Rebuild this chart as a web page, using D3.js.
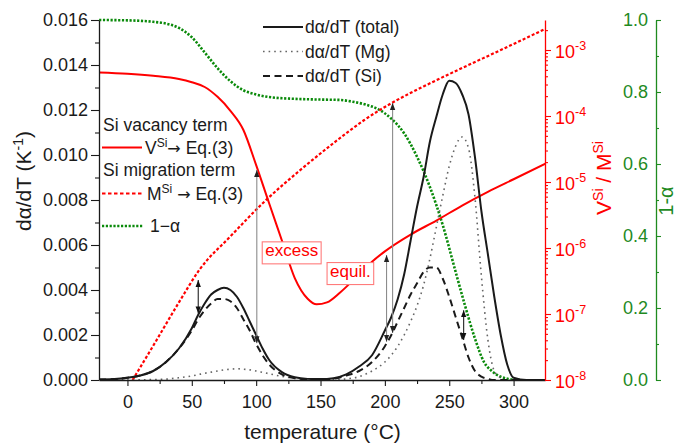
<!DOCTYPE html>
<html>
<head>
<meta charset="utf-8">
<script src="https://cdn.jsdelivr.net/npm/d3@7"></script>
<style>
  body { margin: 0; background: #fff; }
  svg { display: block; font-family: "Liberation Sans", Arial, sans-serif; }
</style>
</head>
<body>
<svg id="chart" width="678" height="446"></svg>
<script>
// ---- precipitation rate curves dα/dT (K^-1), shared temperature grid (°C)
const temperature = [-22, -10, 0, 10, 20, 30, 40, 50, 55, 60, 65, 70, 75, 80, 85, 90, 95, 100, 105, 110,
  120, 130, 140, 150, 160, 170, 180, 190, 200, 205, 210, 215, 220, 225, 230, 235, 240, 245, 250, 255,
  260, 265, 270, 275, 280, 285, 290, 295, 300, 310, 325];
const rateTotal = [0.00002, 0.00004, 0.0001, 0.0002, 0.0004, 0.0008, 0.0014, 0.0023, 0.0029, 0.0034,
  0.0038, 0.0040, 0.0041, 0.0040, 0.0037, 0.0032, 0.0026, 0.0020, 0.0014, 0.0009,
  0.00035, 0.00012, 0.00005, 0.00004, 0.00008, 0.00025, 0.0006, 0.0011, 0.0022, 0.0028,
  0.0036, 0.0047, 0.0062, 0.0077, 0.0090, 0.0106, 0.0117, 0.0127, 0.0133, 0.0132,
  0.0127, 0.0118, 0.0099, 0.0075, 0.0056, 0.0037, 0.0020, 0.0007, 0.0001, 0, 0];
const rateMg = [0, 0, 0, 0.00001, 0.00002, 0.00004, 0.0001, 0.00018, 0.00024, 0.0003,
  0.00035, 0.0004, 0.00045, 0.00048, 0.0005, 0.00048, 0.00045, 0.0004, 0.00034, 0.00028,
  0.00016, 0.00008, 0.00003, 0.00001, 0.00002, 0.00005, 0.00015, 0.0004, 0.0008, 0.0011,
  0.0015, 0.0020, 0.0026, 0.0033, 0.0042, 0.0054, 0.0068, 0.0082, 0.0095, 0.0104,
  0.0108, 0.0103, 0.0081, 0.0046, 0.0018, 0.0004, 0.0001, 0, 0, 0, 0];
const rateSi = [0.00002, 0.00004, 0.0001, 0.0002, 0.0004, 0.0008, 0.0014, 0.0022, 0.0027, 0.0031,
  0.0034, 0.0036, 0.0036, 0.0035, 0.0032, 0.0027, 0.0022, 0.0016, 0.0011, 0.0007,
  0.00025, 0.00008, 0.00003, 0.00003, 0.00006, 0.0002, 0.0004, 0.0008, 0.0015, 0.0020,
  0.0026, 0.0032, 0.0038, 0.0043, 0.0048, 0.0050, 0.0050, 0.0045, 0.0037, 0.0028,
  0.0019, 0.0010, 0.0004, 0.00015, 0.00005, 0, 0, 0, 0, 0, 0];

// ---- Si vacancy term V^Si (log axis)
const vacancyT = [-22, 0, 20, 40, 50, 60, 70, 80, 90, 100, 110, 120, 130, 140, 147, 155, 165, 175,
  190, 200, 220, 240, 260, 280, 300, 325];
const vacancySi = [4.57e-4, 4.37e-4, 4.07e-4, 3.63e-4, 3.24e-4, 2.75e-4, 1.95e-4, 1.2e-4, 6.2e-5, 1.8e-5,
  4.8e-6, 1.3e-6, 3.5e-7, 1.7e-7, 1.4e-7, 1.5e-7, 2.1e-7, 3.2e-7,
  6.2e-7, 8.9e-7, 1.6e-6, 2.6e-6, 4.4e-6, 7.1e-6, 1.1e-5, 1.9e-5];

// ---- Si migration term M^Si (log axis)
const migrationT = [4, 20, 40, 56, 80, 108, 134, 163, 184, 206, 230, 257, 290, 325];
const migrationSi = [1e-8, 3.3e-8, 1.5e-7, 4.7e-7, 1.5e-6, 5.4e-6, 1.5e-5, 4.3e-5, 8.7e-5, 1.6e-4,
  2.8e-4, 5.0e-4, 1.0e-3, 2.1e-3];

// ---- untransformed fraction 1-α
const remainingT = [-22, 0, 20, 30, 40, 50, 60, 70, 80, 90, 100, 110, 130, 150, 165, 175, 185, 195,
  205, 215, 225, 235, 245, 255, 262, 270, 277, 283, 290, 296, 305];
const remaining = [1.0, 0.999, 0.995, 0.99, 0.978, 0.952, 0.91, 0.866, 0.83, 0.805, 0.793, 0.786, 0.781,
  0.779, 0.778, 0.773, 0.765, 0.752, 0.726, 0.685, 0.62, 0.536, 0.43, 0.30, 0.21, 0.115, 0.05,
  0.025, 0.009, 0.003, 0];

// ---- ticks
const xTicks = [0, 50, 100, 150, 200, 250, 300];
const xMinorTicks = [25, 75, 125, 175, 225, 275];
const yLeftTicks = [0, 0.002, 0.004, 0.006, 0.008, 0.010, 0.012, 0.014, 0.016];
const yLeftMinorTicks = [0.001, 0.003, 0.005, 0.007, 0.009, 0.011, 0.013, 0.015];
const yRightExponents = [-8, -7, -6, -5, -4, -3];
const yGreenTicks = [0, 0.2, 0.4, 0.6, 0.8, 1.0];
const yGreenMinorTicks = [0.1, 0.3, 0.5, 0.7, 0.9];

// ---- vertical double arrows: temperature, upper end (on given axis), lower end on dα/dT axis
const arrowT = [55, 100.5, 201.3, 206, 261.2];
const arrowTop = [3.27e-7, 1.52e-5, 7.8e-7, 1.58e-4, 0.194];
const arrowTopAxis = ["log", "log", "log", "log", "frac"];
const arrowBottom = [0.00296, 0.00163, 0.0017, 0.00209, 0.00178];
const arrowTone = ["dark", "gray", "gray", "gray", "dark"];

// ---- boxed labels
const boxText = ["excess", "equil."];
const boxT = [127.6, 173.2];
const boxRate = [0.00576, 0.00484];

// ================= drawing =================
const RED = "#ff0000", GREEN_AX = "#1f8a1f", GREEN = "#0a8a0a", INK = "#1a1a1a";
const svg = d3.select("#chart");

const x = d3.scaleLinear().domain([-22.1, 324.4]).range([99, 545]);
const yL = d3.scaleLinear().domain([0, 0.016]).range([380, 20]);
const yR = d3.scaleLog().domain([1e-8, Math.pow(10, -8 + 360 / 66)]).range([380, 20]);
const yG = d3.scaleLinear().domain([0, 1]).range([380, 20]);

const [x0, x1] = x.range();
const [yb, yt] = yL.range();

svg.append("defs").append("clipPath").attr("id", "plotclip")
  .append("rect").attr("x", x0).attr("y", yt - 2).attr("width", x1 - x0).attr("height", yb - yt + 2);

["dark", "gray"].forEach(k => {
  svg.select("defs").append("marker")
    .attr("id", "head-" + k)
    .attr("viewBox", "0 0 10 10").attr("refX", 10).attr("refY", 5)
    .attr("markerUnits", "userSpaceOnUse")
    .attr("markerWidth", 7).attr("markerHeight", 7)
    .attr("orient", "auto-start-reverse")
    .append("path").attr("d", "M0,1.2 L10,5 L0,8.8 Z").attr("fill", k === "dark" ? "#111" : "#222");
});

const plot = svg.append("g").attr("clip-path", "url(#plotclip)");

const lineOn = (xs, ys, yScale) =>
  d3.line().curve(d3.curveMonotoneX).x((d, i) => x(xs[i])).y((d, i) => yScale(ys[i]))(ys);

// 1-α
plot.append("path").attr("d", lineOn(remainingT, remaining, yG))
  .attr("fill", "none").attr("stroke", GREEN).attr("stroke-width", 2.6).attr("stroke-dasharray", "2.2,1.6");
// M^Si
plot.append("path").attr("d", lineOn(migrationT, migrationSi, yR))
  .attr("fill", "none").attr("stroke", RED).attr("stroke-width", 2.2).attr("stroke-dasharray", "3,2");
// V^Si
plot.append("path").attr("d", lineOn(vacancyT, vacancySi, yR))
  .attr("fill", "none").attr("stroke", RED).attr("stroke-width", 2);
// dα/dT (Mg)
plot.append("path").attr("d", lineOn(temperature, rateMg, yL))
  .attr("fill", "none").attr("stroke", "#666").attr("stroke-width", 1.6)
  .attr("stroke-dasharray", "1.6,4").attr("stroke-linecap", "butt");
// dα/dT (Si)
plot.append("path").attr("d", lineOn(temperature, rateSi, yL))
  .attr("fill", "none").attr("stroke", INK).attr("stroke-width", 2).attr("stroke-dasharray", "7,4.5");
// dα/dT (total)
plot.append("path").attr("d", lineOn(temperature, rateTotal, yL))
  .attr("fill", "none").attr("stroke", INK).attr("stroke-width", 2);

// arrows
arrowT.forEach((t, i) => {
  const topY = arrowTopAxis[i] === "log" ? yR(arrowTop[i]) : yG(arrowTop[i]);
  svg.append("line")
    .attr("x1", x(t)).attr("x2", x(t))
    .attr("y1", topY).attr("y2", yL(arrowBottom[i]))
    .attr("stroke", arrowTone[i] === "dark" ? "#222" : "#8c8c8c")
    .attr("stroke-width", 1.1)
    .attr("marker-start", `url(#head-${arrowTone[i]})`)
    .attr("marker-end", `url(#head-${arrowTone[i]})`);
});

// boxed labels
boxText.forEach((s, i) => {
  const g = svg.append("g");
  const rect = g.append("rect");
  const txt = g.append("text")
    .attr("x", x(boxT[i])).attr("y", yL(boxRate[i])).attr("dy", "0.35em")
    .attr("text-anchor", "middle").attr("font-size", 17).attr("fill", RED).text(s);
  const b = txt.node().getBBox();
  rect.attr("x", b.x - 3).attr("y", b.y + 0.5).attr("width", b.width + 6).attr("height", b.height + 3)
    .attr("fill", "#fff").attr("stroke", "#ff7b7b").attr("stroke-width", 1.1);
});

// ---------- axes ----------
function styleAxis(g, color, fontSize) {
  g.select(".domain").attr("stroke", color).attr("stroke-width", 1.3);
  g.selectAll(".tick line").attr("stroke", color).attr("stroke-width", 1.1);
  g.selectAll(".tick text").attr("fill", color).attr("font-size", fontSize)
    .attr("font-family", "'Liberation Sans', Arial, sans-serif");
}

// bottom
const gx = svg.append("g").attr("transform", `translate(0,${yb})`)
  .call(d3.axisBottom(x).tickValues(xTicks).tickSize(6).tickSizeOuter(0).tickPadding(9.5));
styleAxis(gx, INK, 18);
const gxm = svg.append("g").attr("transform", `translate(0,${yb})`)
  .call(d3.axisBottom(x).tickValues(xMinorTicks).tickSize(4).tickFormat(""));
gxm.select(".domain").remove();
styleAxis(gxm, INK, 18);

// left
const gl = svg.append("g").attr("transform", `translate(${x0},0)`)
  .call(d3.axisLeft(yL).tickValues(yLeftTicks).tickSize(8).tickSizeOuter(0).tickPadding(3)
    .tickFormat(d3.format(".3f")));
styleAxis(gl, INK, 18);
const glm = svg.append("g").attr("transform", `translate(${x0},0)`)
  .call(d3.axisLeft(yL).tickValues(yLeftMinorTicks).tickSize(4).tickFormat(""));
glm.select(".domain").remove();
styleAxis(glm, INK, 18);

// right (log, red)
const majorR = yRightExponents.map(e => Math.pow(10, e));
const minorR = yR.ticks().filter(v => Math.abs(Math.log10(v) - Math.round(Math.log10(v))) > 1e-6);
const gr = svg.append("g").attr("transform", `translate(${x1},0)`)
  .call(d3.axisRight(yR).tickValues(majorR).tickSize(6).tickSizeOuter(0).tickPadding(4).tickFormat(""));
styleAxis(gr, RED, 18);
gr.selectAll(".tick text").each(function (d) {
  const t = d3.select(this).text(null).attr("dy", null).attr("y", 7).attr("x", 10);
  t.append("tspan").text("10");
  t.append("tspan").attr("font-size", 12.5).attr("dy", -8).text("-" + (-Math.round(Math.log10(d))));
});
const grm = svg.append("g").attr("transform", `translate(${x1},0)`)
  .call(d3.axisRight(yR).tickValues(minorR).tickSize(3).tickFormat(""));
grm.select(".domain").remove();
styleAxis(grm, RED, 18);

// far right (1-α, green)
const gxG = 656;
const gg = svg.append("g").attr("transform", `translate(${gxG},0)`)
  .call(d3.axisRight(yG).tickValues(yGreenTicks).tickSize(5).tickSizeOuter(0).tickFormat(d3.format(".1f")));
styleAxis(gg, GREEN_AX, 18);
gg.selectAll(".tick text").attr("x", -8).attr("text-anchor", "end");
const ggm = svg.append("g").attr("transform", `translate(${gxG},0)`)
  .call(d3.axisRight(yG).tickValues(yGreenMinorTicks).tickSize(3).tickFormat(""));
ggm.select(".domain").remove();
styleAxis(ggm, GREEN_AX, 18);

// ---------- axis titles ----------
svg.append("text").attr("x", 322.5).attr("y", 439).attr("text-anchor", "middle")
  .attr("font-size", 21).attr("fill", INK).text("temperature (°C)");

const tl = svg.append("text").attr("transform", "translate(31,181) rotate(-90)")
  .attr("text-anchor", "middle").attr("font-size", 21).attr("fill", INK);
tl.append("tspan").text("dα/dT (K");
tl.append("tspan").attr("font-size", 14).attr("dy", -8).text("-1");
tl.append("tspan").attr("dy", 8).text(")");

const tr = svg.append("text").attr("transform", "translate(611,178) rotate(-90)")
  .attr("text-anchor", "middle").attr("font-size", 21).attr("fill", RED);
tr.append("tspan").text("V");
tr.append("tspan").attr("font-size", 14).attr("dy", -8).text("Si");
tr.append("tspan").attr("dy", 8).text(" / M");
tr.append("tspan").attr("font-size", 14).attr("dy", -8).text("Si");

svg.append("text").attr("transform", "translate(673,201) rotate(-90)")
  .attr("text-anchor", "middle").attr("font-size", 20).attr("fill", GREEN_AX).text("1-α");

// ---------- legends ----------
const legTop = [
  { label: "dα/dT (total)", stroke: INK, w: 2, dash: null, y: 27 },
  { label: "dα/dT (Mg)", stroke: "#666", w: 1.6, dash: "1.6,4", y: 51.5 },
  { label: "dα/dT (Si)", stroke: INK, w: 2, dash: "7,4.5", y: 76 }
];
legTop.forEach(l => {
  svg.append("line").attr("x1", 263).attr("x2", 303).attr("y1", l.y).attr("y2", l.y)
    .attr("stroke", l.stroke).attr("stroke-width", l.w).attr("stroke-dasharray", l.dash);
  svg.append("text").attr("x", 305).attr("y", l.y).attr("dy", "0.35em")
    .attr("font-size", 17.5).attr("fill", INK).text(l.label);
});

const ARROW_FONT = "'DejaVu Sans', sans-serif";

svg.append("text").attr("x", 103).attr("y", 125).attr("dy", "0.35em")
  .attr("font-size", 17.5).attr("fill", INK).text("Si vacancy term");
svg.append("line").attr("x1", 102).attr("x2", 142).attr("y1", 147.5).attr("y2", 147.5)
  .attr("stroke", RED).attr("stroke-width", 2);
const lv = svg.append("text").attr("x", 145).attr("y", 148).attr("dy", "0.35em")
  .attr("font-size", 17.5).attr("fill", INK);
lv.append("tspan").text("V");
lv.append("tspan").attr("font-size", 12).attr("dy", -7).text("Si");
lv.append("tspan").attr("dy", 7).attr("font-family", ARROW_FONT).attr("font-size", 16).text("→");
lv.append("tspan").text(" Eq.(3)");

svg.append("text").attr("x", 103).attr("y", 170).attr("dy", "0.35em")
  .attr("font-size", 17.5).attr("fill", INK).text("Si migration term");
svg.append("line").attr("x1", 102).attr("x2", 142).attr("y1", 193.5).attr("y2", 193.5)
  .attr("stroke", RED).attr("stroke-width", 2.2).attr("stroke-dasharray", "3.5,2.5");
const lm = svg.append("text").attr("x", 147).attr("y", 194).attr("dy", "0.35em")
  .attr("font-size", 17.5).attr("fill", INK);
lm.append("tspan").text("M");
lm.append("tspan").attr("font-size", 12).attr("dy", -7).text("Si");
lm.append("tspan").attr("dy", 7).text(" ");
lm.append("tspan").attr("font-family", ARROW_FONT).attr("font-size", 16).text("→");
lm.append("tspan").text(" Eq.(3)");

svg.append("line").attr("x1", 102).attr("x2", 143).attr("y1", 226).attr("y2", 226)
  .attr("stroke", GREEN).attr("stroke-width", 2.6).attr("stroke-dasharray", "2.2,1.6");
svg.append("text").attr("x", 150).attr("y", 226).attr("dy", "0.35em")
  .attr("font-size", 17.5).attr("fill", INK).text("1−α");
</script>
</body>
</html>
